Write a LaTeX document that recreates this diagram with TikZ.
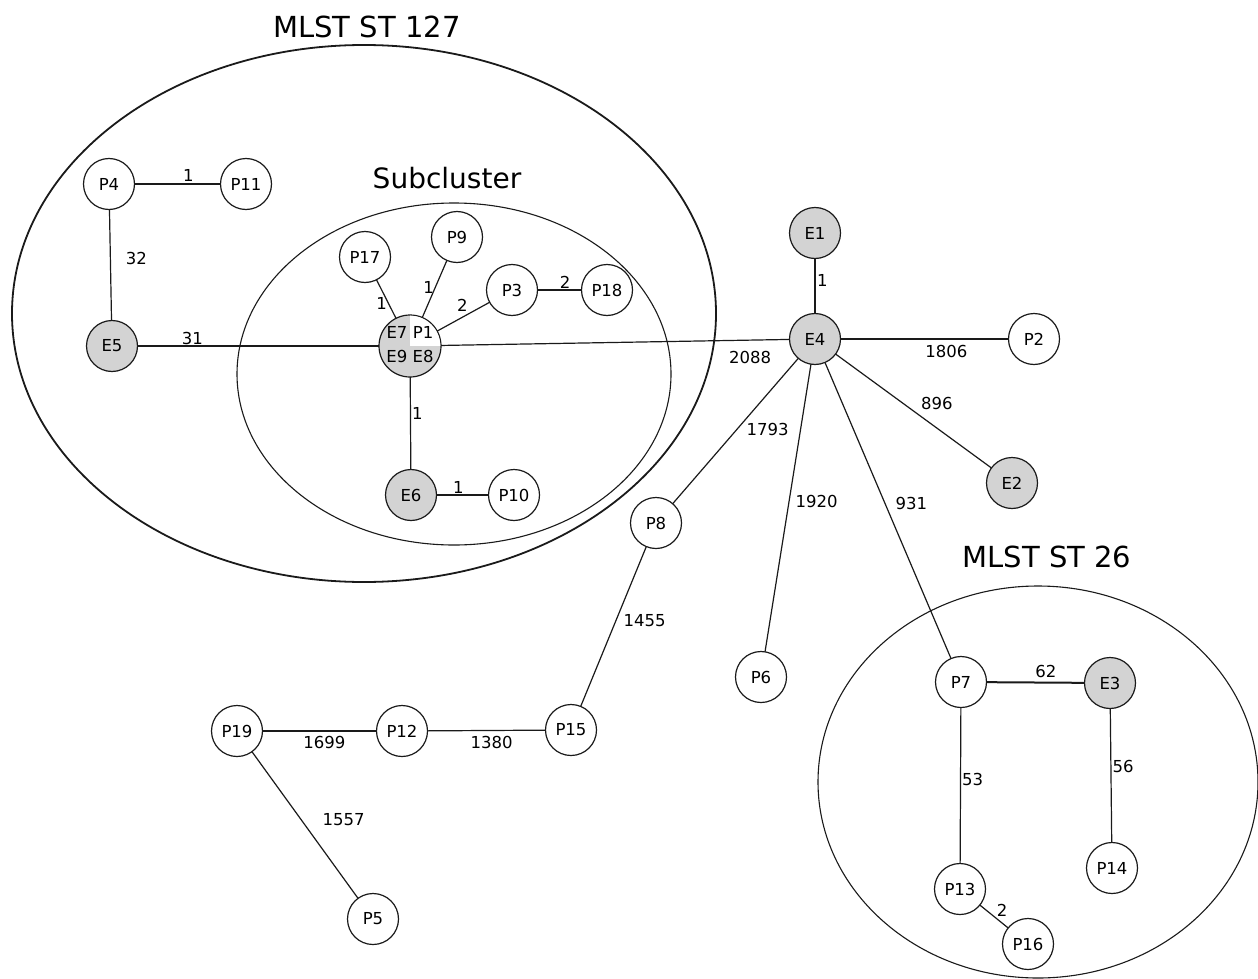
\documentclass[tikz,border=0pt]{standalone}
\usepackage{fontspec}
\setmainfont{DejaVu Sans}
\usetikzlibrary{backgrounds}
\definecolor{egray}{HTML}{D3D3D3}
\definecolor{linec}{HTML}{1A1A1A}
\begin{document}
\begin{tikzpicture}[x=1pt,y=-1pt,
  nd/.style={circle,draw=linec,line width=1.2pt,minimum size=51pt,inner sep=0pt,fill=white,font=\fontsize{16.5}{20}\selectfont},
  en/.style={nd,fill=egray},
  lk/.style={line width=1.2pt,draw=linec},
  tk/.style={line width=2pt,draw=linec},
  lb/.style={inner sep=1pt,font=\fontsize{16.5}{20}\selectfont},
  ttl/.style={font=\fontsize{29}{34}\selectfont,inner sep=0pt}]
\useasboundingbox (0,0) rectangle (1258,979);

% cluster ellipses
\draw[line width=1.8pt,linec] (364,313.5) ellipse [x radius=352pt, y radius=268.5pt];
\draw[line width=1.1pt,linec] (454,374) ellipse [x radius=217pt, y radius=171pt];
\draw[line width=1.1pt,linec] (1038,782) ellipse [x radius=220pt, y radius=196pt];

% titles
\node[ttl] (t1) at (367,27) {MLST ST 127};
\node[ttl,font=\fontsize{28}{32}\selectfont] (t2) at (447,178) {Subcluster};
\node[ttl] (t3) at (1047,557) {MLST ST 26};

% nodes
\node[nd] (P4) at (109,184) {P4};
\node[nd] (P11) at (246,184) {P11};
\node[en] (E5) at (112,346) {E5};
\node[en,minimum size=62pt] (C) at (410,346) {};
\begin{scope}
  \clip (410,346) circle (30.3pt);
  \fill[white] (410,346) rectangle (445,310);
\end{scope}
\node[align=center,inner sep=0pt,font=\fontsize{16.5}{24}\selectfont] (Ct) at (410,345) {E7\,\,P1\\E9\,\,E8};
\node[nd] (P17) at (365,257) {P17};
\node[nd] (P9) at (457,237) {P9};
\node[nd] (P3) at (512,290) {P3};
\node[nd] (P18) at (607,290) {P18};
\node[en] (E6) at (411,495) {E6};
\node[nd] (P10) at (514,495) {P10};
\node[en] (E1) at (815,233) {E1};
\node[en] (E4) at (815,339) {E4};
\node[nd] (P2) at (1034,339) {P2};
\node[en] (E2) at (1012,483) {E2};
\node[nd] (P8) at (656,523) {P8};
\node[nd] (P6) at (761,677) {P6};
\node[nd] (P7) at (961,682) {P7};
\node[en] (E3) at (1110,683) {E3};
\node[nd] (P13) at (960,889) {P13};
\node[nd] (P14) at (1112,868) {P14};
\node[nd] (P16) at (1028,944) {P16};
\node[nd] (P15) at (571,730) {P15};
\node[nd] (P12) at (402,731) {P12};
\node[nd] (P19) at (237,731) {P19};
\node[nd] (P5) at (373,919) {P5};

\begin{pgfonlayer}{background}
\fill[white] (0,0) rectangle (1258,979);
\draw[tk] (P4.center) -- node[lb,pos=.58,above]{1} (P11.center);
\draw[lk] (P4.center) -- node[lb,pos=.46,right=14pt]{32} (E5.center);
\draw[lk] (E5.center) -- node[lb,pos=.27,above]{31} (C.center);
\draw[lk] (C.center) -- node[lb,pos=.48,left]{1} (P17.center);
\draw[lk] (C.center) -- node[lb,pos=.54,left]{1} (P9.center);
\draw[lk] (C.center) -- node[lb,pos=.58,above left]{2} (P3.center);
\draw[tk] (P3.center) -- node[lb,pos=.56,above]{2} (P18.center);
\draw[lk] (C.center) -- node[lb,pos=.45,right]{1} (E6.center);
\draw[tk] (E6.center) -- node[lb,pos=.46,above]{1} (P10.center);
\draw[tk] (E1.center) -- node[lb,pos=.45,right]{1} (E4.center);
\draw[lk] (C.center) -- node[lb,pos=.84,below=10pt]{2088} (E4.center);
\draw[lk] (E4.center) -- node[lb,pos=.6,below=5pt]{1806} (P2.center);
\draw[lk] (E4.center) -- node[lb,pos=.53,above right,yshift=4pt]{896} (E2.center);
\draw[lk] (E4.center) -- node[lb,pos=.49,right=8pt]{1793} (P8.center);
\draw[lk] (E4.center) -- node[lb,pos=.48,right=5pt]{1920} (P6.center);
\draw[lk] (E4.center) -- node[lb,pos=.48,right=9pt]{931} (P7.center);
\draw[lk] (P8.center) -- node[lb,pos=.47,right=6pt]{1455} (P15.center);
\draw[tk] (P7.center) -- node[lb,pos=.57,above=3pt]{62} (E3.center);
\draw[lk] (P7.center) -- node[lb,pos=.47,right]{53} (P13.center);
\draw[lk] (E3.center) -- node[lb,pos=.45,right]{56} (P14.center);
\draw[lk] (P13.center) -- node[lb,pos=.52,above right]{2} (P16.center);
\draw[lk] (P19.center) -- node[lb,pos=.53,below=4pt]{1699} (P12.center);
\draw[lk] (P12.center) -- node[lb,pos=.53,below=4pt]{1380} (P15.center);
\draw[lk] (P19.center) -- node[lb,pos=.47,right=20pt]{1557} (P5.center);
\end{pgfonlayer}
\end{tikzpicture}
\end{document}
